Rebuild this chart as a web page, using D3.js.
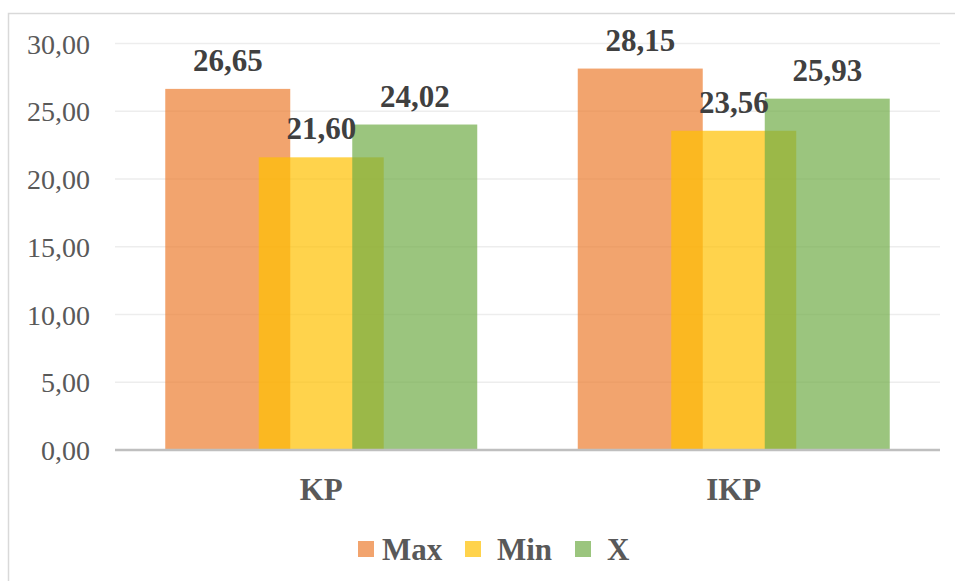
<!DOCTYPE html>
<html>
<head>
<meta charset="utf-8">
<script src="https://cdn.jsdelivr.net/npm/d3@7"></script>
<style>
  html, body { margin: 0; padding: 0; background: #fff; }
  svg { display: block; }
  svg text { font-family: "Liberation Serif", "Times New Roman", Times, "DejaVu Serif", serif !important; }
</style>
</head>
<body>
<svg id="chart" width="955" height="581"></svg>
<script>
const categories = ["KP", "IKP"];
const seriesNames = ["Max", "Min", "X"];
const maxValues = [26.65, 28.15];
const minValues = [21.60, 23.56];
const xValues = [24.02, 25.93];
const yTicks = [0, 5, 10, 15, 20, 25, 30];

const seriesValues = [maxValues, minValues, xValues];
const colors = ["#ED7D31", "#FFC000", "#70AD47"];

const fmt = v => v.toFixed(2).replace(".", ",");

const svg = d3.select("#chart");

// outer border
svg.append("rect")
  .attr("x", 8.5).attr("y", 13.5)
  .attr("width", 980).attr("height", 620)
  .attr("fill", "#fff").attr("stroke", "#D9D9D9").attr("stroke-width", 1.5);

const plotLeft = 115, plotRight = 940;
const y = d3.scaleLinear().domain([0, 30]).range([450, 43.5]);
const x0 = d3.scaleBand().domain(categories).range([plotLeft, plotRight]).padding(0);

// gridlines
svg.append("g").selectAll("line")
  .data(yTicks.filter(t => t !== 0))
  .join("line")
  .attr("x1", plotLeft).attr("x2", plotRight)
  .attr("y1", d => y(d)).attr("y2", d => y(d))
  .attr("stroke", "#EDEDED").attr("stroke-width", 1.5);

// y axis labels
const yAxis = d3.axisLeft(y).tickValues(yTicks).tickFormat(fmt).tickSize(0).tickPadding(25);
const gy = svg.append("g").attr("transform", `translate(${plotLeft},0)`).call(yAxis);
gy.attr("font-family", null);
gy.select(".domain").remove();
gy.selectAll("text")
  .attr("font-size", 28)
  .attr("fill", "#595959")
  .attr("dy", "0.34em");

// bars
const barW = 125, step = 93.5;
const groupW = step * (seriesNames.length - 1) + barW;
const barX = (c, si) => x0(c) + x0.bandwidth() / 2 - groupW / 2 + si * step;
seriesNames.forEach((name, si) => {
  const vals = seriesValues[si];
  svg.append("g").selectAll("rect")
    .data(categories.map((c, ci) => ({ c, v: vals[ci] })))
    .join("rect")
    .attr("x", d => barX(d.c, si))
    .attr("y", d => y(d.v))
    .attr("width", barW)
    .attr("height", d => y(0) - y(d.v))
    .attr("fill", colors[si])
    .attr("fill-opacity", 0.7);
});

// zero axis line
svg.append("line")
  .attr("x1", plotLeft).attr("x2", plotRight)
  .attr("y1", y(0)).attr("y2", y(0))
  .attr("stroke", "#BFBFBF").attr("stroke-width", 2.5);

// data labels
seriesNames.forEach((name, si) => {
  const vals = seriesValues[si];
  svg.append("g").selectAll("text")
    .data(categories.map((c, ci) => ({ c, v: vals[ci] })))
    .join("text")
    .attr("x", d => barX(d.c, si) + barW / 2)
    .attr("y", d => y(d.v) - 18)
    .attr("text-anchor", "middle")
    .attr("font-weight", "bold")
    .attr("font-size", 31)
    .attr("fill", "#404040")
    .text(d => fmt(d.v));
});

// category labels
const xAxis = d3.axisBottom(x0).tickSize(0).tickPadding(0);
const gx = svg.append("g").attr("transform", `translate(0,500)`).call(xAxis);
gx.attr("font-family", null);
gx.select(".domain").remove();
gx.selectAll("text")
  .attr("dy", 0)
  .attr("y", 0)
  .attr("font-weight", "bold")
  .attr("font-size", 31)
  .attr("fill", "#595959");

// legend
const legendSquareX = [358, 465, 575];
const legendTextX = [382, 497, 607];
const lg = svg.append("g");
seriesNames.forEach((name, i) => {
  lg.append("rect")
    .attr("x", legendSquareX[i]).attr("y", 541)
    .attr("width", 16).attr("height", 16)
    .attr("fill", colors[i]).attr("fill-opacity", 0.7);
  lg.append("text")
    .attr("x", legendTextX[i]).attr("y", 560)
    .attr("font-weight", "bold")
    .attr("font-size", 31)
    .attr("fill", "#595959")
    .text(name);
});
</script>
</body>
</html>
